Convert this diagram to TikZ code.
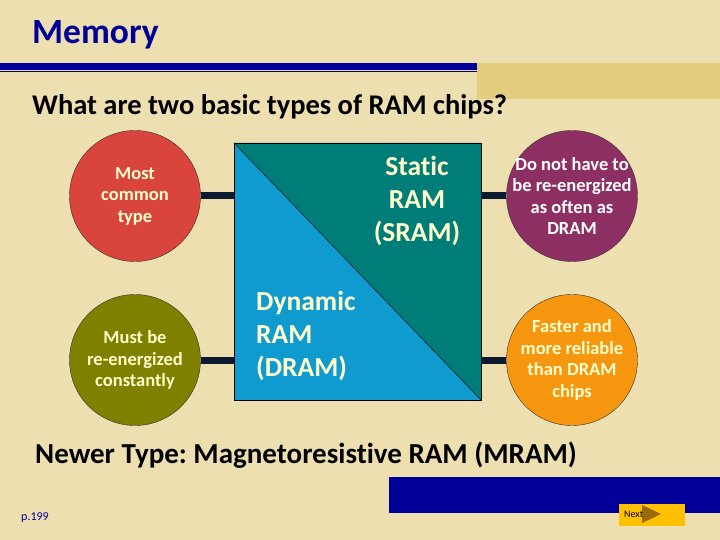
\documentclass[tikz,border=0pt]{standalone}
\usepackage{fontspec}
\setmainfont{Carlito}[Ligatures=NoCommon]
\frenchspacing
\usetikzlibrary{positioning}
\definecolor{slidebg}{HTML}{EDDFB0}
\definecolor{titleblue}{HTML}{000099}
\definecolor{barbeige}{HTML}{E3CD7E}
\definecolor{linkdark}{HTML}{0C1A30}
\definecolor{ramteal}{HTML}{007D78}
\definecolor{ramblue}{HTML}{0F9BCF}
\definecolor{cream}{HTML}{FFFFCC}
\definecolor{redfill}{HTML}{D9453C}
\definecolor{olivefill}{HTML}{7F7F00}
\definecolor{purplefill}{HTML}{8E2F63}
\definecolor{orangefill}{HTML}{F7960F}
\definecolor{nextgold}{HTML}{FFC000}
\definecolor{arrowbrown}{HTML}{9A6A08}

\begin{document}
\begin{tikzpicture}[x=1pt,y=-1pt,
  bubble/.style={circle, draw=black!80, thin, minimum size=131pt, inner sep=-14pt,
    align=center, font=\bfseries\fontsize{18.5}{21.5}\selectfont},
  link/.style={line width=7pt, draw=linkdark},
  ramtext/.style={inner sep=0pt, text=cream, font=\bfseries\fontsize{27.5}{33}\selectfont}]
  % background and title bar
  \fill[slidebg] (0,0) rectangle (720,540);
  \useasboundingbox (0,0) rectangle (720,540);
  \fill[barbeige] (477,63) rectangle (720,99);
  \fill[titleblue] (0,63.5) rectangle (477,70);
  \fill[titleblue] (0,71) rectangle (477,72.5);
  \node[anchor=base west, inner sep=0pt, text=titleblue, font=\bfseries\fontsize{35.5}{40}\selectfont] (title) at (32,44) {Memory};
  \node[anchor=base west, inner sep=0pt, font=\bfseries\fontsize{28.5}{32}\selectfont] (question) at (32,115) {What are two basic types of RAM chips?};

  % the split square
  \node[draw=black, thin, minimum width=247pt, minimum height=257pt, inner sep=0pt,
    path picture={
      \fill[ramblue] (path picture bounding box.north west) -- (path picture bounding box.south west) -- (path picture bounding box.south east) -- cycle;
      \fill[ramteal] (path picture bounding box.north west) -- (path picture bounding box.north east) -- (path picture bounding box.south east) -- cycle;
    }] (ram) at (357.5,271.5) {};
  \draw[black, thin] (ram.north west) -- (ram.south east);
  \node[ramtext, align=center] (sram) at (417,201) {Static\\RAM\\(SRAM)};
  \node[ramtext, align=left, anchor=west] (dram) at (256,336) {Dynamic\\RAM\\(DRAM)};

  % circles
  \node[bubble, fill=redfill, text=cream] (common) at (135,196) {Most\\common\\type};
  \node[bubble, fill=olivefill, text=cream] (constant) at (135,360) {Must be\\re-energized\\constantly};
  \node[bubble, fill=purplefill, text=white] (often) at (572,196) {Do not have to\\be re-energized\\as often as\\DRAM};
  \node[bubble, fill=orangefill, text=cream] (faster) at (572,360) {Faster and\\more reliable\\than DRAM\\chips};

  % connectors
  \draw[link] (common.east) -- (common.east -| ram.west);
  \draw[link] (constant.east) -- (constant.east -| ram.west);
  \draw[link] (often.west) -- (often.west -| ram.east);
  \draw[link] (faster.west) -- (faster.west -| ram.east);

  \node[anchor=base west, inner sep=0pt, font=\bfseries\fontsize{29}{33}\selectfont] (mram) at (35,463) {Newer Type: Magnetoresistive RAM (MRAM)};

  % footer
  \fill[titleblue] (389,477) rectangle (720,513);
  \node[fill=nextgold, minimum width=66pt, minimum height=22pt, inner sep=0pt] (next) at (652,515) {};
  \fill[arrowbrown] (642,505) -- (661,514) -- (642,523) -- cycle;
  \node[anchor=west, inner sep=0pt, font=\fontsize{10}{11}\selectfont] (nextlabel) at (624,514) {Next};
  \node[anchor=base west, inner sep=0pt, text=titleblue, font=\fontsize{12}{14}\selectfont] (page) at (21,520) {p.199};
\end{tikzpicture}
\end{document}
